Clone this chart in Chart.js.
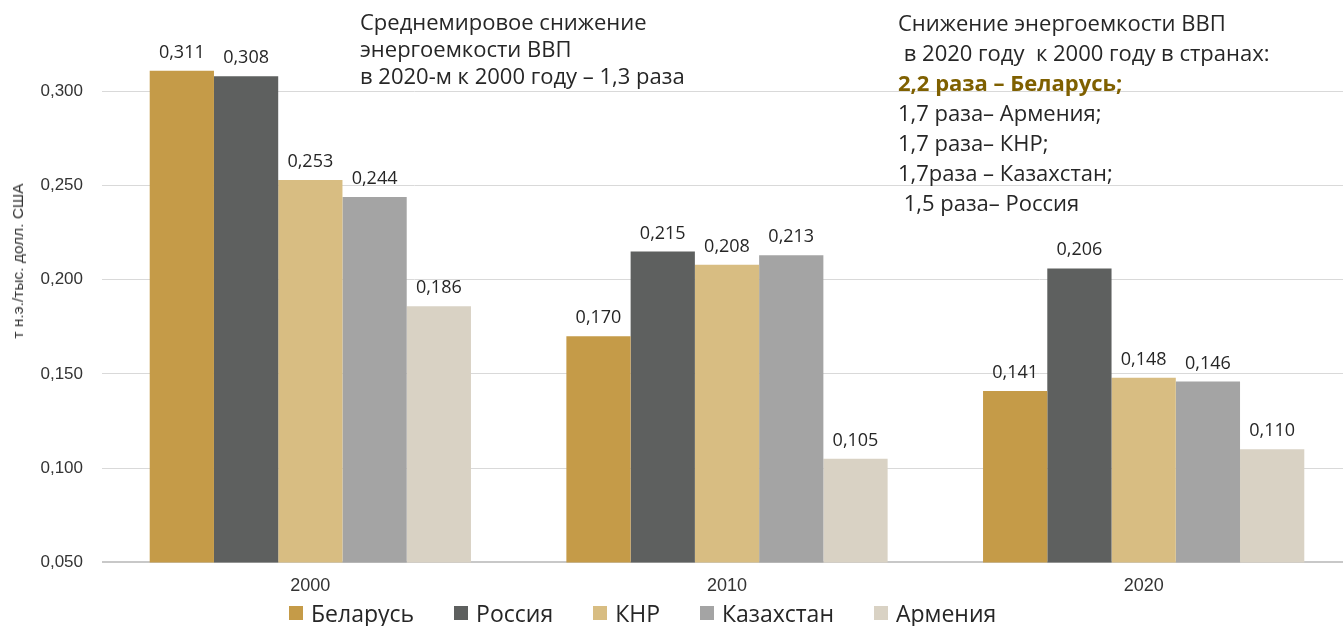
<!DOCTYPE html>
<html lang="ru">
  <head>
    <meta charset="UTF-8" />
    <title>Энергоемкость ВВП</title>
    <script src="https://cdn.jsdelivr.net/npm/chart.js"></script>
    <style>
      html, body { margin: 0; padding: 0; background: #fff; overflow: hidden; }
      #wrap { position: relative; width: 1352px; height: 626px; }
      #energyChart { position: absolute; left: 0; top: 0; }
      .note { position: absolute; font-family: "Open Sans", sans-serif; color: #262626; white-space: pre; }
      #noteWorld { left: 360px; top: 8px; font-size: 22px; line-height: 27px; }
      #noteCountries { left: 898px; top: 7px; font-size: 22px; line-height: 30px; }
      #noteCountries .hl { color: #7f6000; font-weight: bold; }
      #yTitle { position: absolute; left: 18px; top: 261px; transform: translate(-50%, -50%) rotate(-90deg);
        font-family: "Liberation Sans", Arial, sans-serif; font-size: 15.5px; color: #333; white-space: nowrap; }
      #legend { position: absolute; left: 289px; top: 598px; display: flex; font-family: "Open Sans", sans-serif;
        font-size: 23px; color: #262626; white-space: nowrap; line-height: 30px; }
      #legend .item { display: flex; align-items: center; margin-right: 40px; }
      #legend .box { width: 14px; height: 14px; margin-right: 8px; }
    </style>
  </head>
  <body>
    <div id="wrap">
      <canvas id="energyChart" width="1352" height="626"></canvas>
      <div id="yTitle">т н.э./тыс. долл. США</div>
      <div class="note" id="noteWorld">Среднемировое снижение
энергоемкости ВВП
в 2020-м к 2000 году – 1,3 раза</div>
      <div class="note" id="noteCountries">Снижение энергоемкости ВВП
 в 2020 году  к 2000 году в странах:
<span class="hl">2,2 раза – Беларусь;</span>
1,7 раза– Армения;
1,7 раза– КНР;
1,7раза – Казахстан;
 1,5 раза– Россия</div>
      <div id="legend"></div>
    </div>

    <script>
      // годы и значения энергоемкости (т н.э. на тыс. долл. США)
      const years = ["2000", "2010", "2020"];
      const belarus = [0.311, 0.170, 0.141];
      const russia = [0.308, 0.215, 0.206];
      const china = [0.253, 0.208, 0.148];
      const kazakhstan = [0.244, 0.213, 0.146];
      const armenia = [0.186, 0.105, 0.110];

      const seriesNames = ["Беларусь", "Россия", "КНР", "Казахстан", "Армения"];
      const seriesValues = [belarus, russia, china, kazakhstan, armenia];
      const seriesColors = ["#c59b48", "#5e605f", "#d8bd82", "#a4a4a4", "#d9d2c4"];

      const fmt = v => v.toFixed(3).replace(".", ",");

      // подписи значений над столбцами
      const valueLabels = {
        id: "valueLabels",
        afterDatasetsDraw(chart) {
          const ctx = chart.ctx;
          ctx.save();
          ctx.font = "18px 'Open Sans', sans-serif";
          ctx.fillStyle = "#262626";
          ctx.textAlign = "center";
          ctx.textBaseline = "alphabetic";
          chart.data.datasets.forEach((ds, i) => {
            chart.getDatasetMeta(i).data.forEach((bar, j) => {
              ctx.fillText(fmt(ds.data[j]), bar.x, bar.y - 13);
            });
          });
          ctx.restore();
        }
      };

      new Chart(document.getElementById("energyChart"), {
        type: "bar",
        data: {
          labels: years,
          datasets: seriesNames.map((name, i) => ({
            label: name,
            data: seriesValues[i],
            backgroundColor: seriesColors[i],
            borderWidth: 0,
            barPercentage: 1,
            categoryPercentage: 0.771
          }))
        },
        options: {
          responsive: false,
          animation: false,
          devicePixelRatio: 1,
          layout: { padding: { top: 16, right: 0, bottom: 16, left: 0 } },
          plugins: {
            legend: { display: false },
            tooltip: { enabled: false }
          },
          scales: {
            x: {
              grid: { display: false, drawTicks: false },
              border: { display: false },
              ticks: {
                padding: 13,
                color: "#333",
                font: { family: "'Liberation Sans', Arial, sans-serif", size: 18 }
              }
            },
            y: {
              min: 0.05,
              max: 0.333,
              afterFit(scale) { scale.width = 102; },
              border: { display: false },
              grid: {
                drawTicks: false,
                color: ctx => (ctx.tick && ctx.tick.value <= 0.0501 ? "#c8c8c8" : "#d9d9d9"),
                lineWidth: ctx => (ctx.tick && ctx.tick.value <= 0.0501 ? 2 : 1)
              },
              ticks: {
                stepSize: 0.05,
                padding: 19,
                color: "#333",
                font: { family: "'Liberation Sans', Arial, sans-serif", size: 17 },
                callback: v => (v > 0.3001 ? null : fmt(v))
              }
            }
          }
        },
        plugins: [valueLabels]
      });

      // легенда под осью
      const legend = document.getElementById("legend");
      seriesNames.forEach((name, i) => {
        const item = document.createElement("div");
        item.className = "item";
        const box = document.createElement("span");
        box.className = "box";
        box.style.background = seriesColors[i];
        const text = document.createElement("span");
        text.textContent = name;
        item.appendChild(box);
        item.appendChild(text);
        legend.appendChild(item);
      });
    </script>
  </body>
</html>
